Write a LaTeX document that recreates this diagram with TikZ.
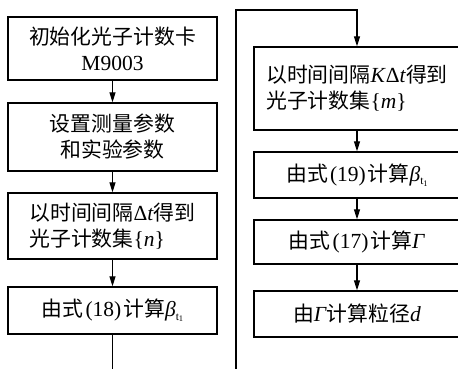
\documentclass[tikz,border=0pt]{standalone}
\usepackage{fontspec}
\setmainfont{Liberation Serif}
\newfontfamily\cjk[Scale=0.97]{Noto Sans CJK SC}
\newcommand\zh[1]{{\cjk #1}}
\newcommand\btone{\textit{β}\raisebox{-0.35ex}{\fontsize{11.5pt}{11.5pt}\selectfont t\raisebox{-0.25ex}{\fontsize{8.5pt}{8.5pt}\selectfont 1}}}
\newcommand\eqref[1]{\kern2pt(#1)\kern2pt}
\usetikzlibrary{arrows.meta}
\tikzset{
  box/.style={draw, line width=1.3pt, inner sep=0pt, font=\fontsize{21.5pt}{26pt}\selectfont},
  lbox/.style={box, minimum width=209pt},
  rbox/.style={box, minimum width=206pt},
  arr/.style={line width=1.1pt, -{Triangle[length=10pt,width=6pt]}},
  ln/.style={line width=1.1pt}
}
\begin{document}
\begin{tikzpicture}[x=1pt,y=-1pt]
\useasboundingbox (0,0) rectangle (458,369);
% left column
\node[lbox, minimum height=63pt, align=center] (l1) at (112.5,48.5) {\zh{初始化光子计数卡}\\M9003};
\node[lbox, minimum height=68pt, align=center] (l2) at (112.5,137) {\zh{设置测量参数}\\\zh{和实验参数}};
\node[lbox, minimum height=66pt, align=left] (l3) at (112.5,226) {\zh{以时间间隔}Δ\textit{t}\zh{得到}\\\zh{光子计数集}\{\textit{n}\}};
\node[lbox, minimum height=47pt] (l4) at (112.5,310.5) {\zh{由式}\eqref{18}\zh{计算}\btone};
\coordinate (lend) at (112.5,369);
\draw[arr] (l1) -- (l2);
\draw[arr] (l2) -- (l3);
\draw[arr] (l3) -- (l4);
\draw[ln] (l4) -- (lend);
% right column
\node[rbox, minimum height=83pt, align=left] (r1) at (357,88.5) {\zh{以时间间隔}\textit{K}Δ\textit{t}\zh{得到}\\\zh{光子计数集}\{\textit{m}\}};
\node[rbox, minimum height=46pt] (r2) at (357,175) {\zh{由式}\eqref{19}\zh{计算}\btone};
\node[rbox, minimum height=44pt] (r3) at (357,242) {\zh{由式}\eqref{17}\zh{计算}\textit{Γ}};
\node[rbox, minimum height=46pt] (r4) at (357,314) {\zh{由}\textit{Γ}\zh{计算粒径}\textit{d}};
\coordinate (rstart) at (236,369);
\coordinate (rtop) at (236,10);
\draw[arr] (rstart) -- (rtop) -| (r1.north);
\draw[arr] (r1) -- (r2);
\draw[arr] (r2) -- (r3);
\draw[arr] (r3) -- (r4);
\end{tikzpicture}
\end{document}
